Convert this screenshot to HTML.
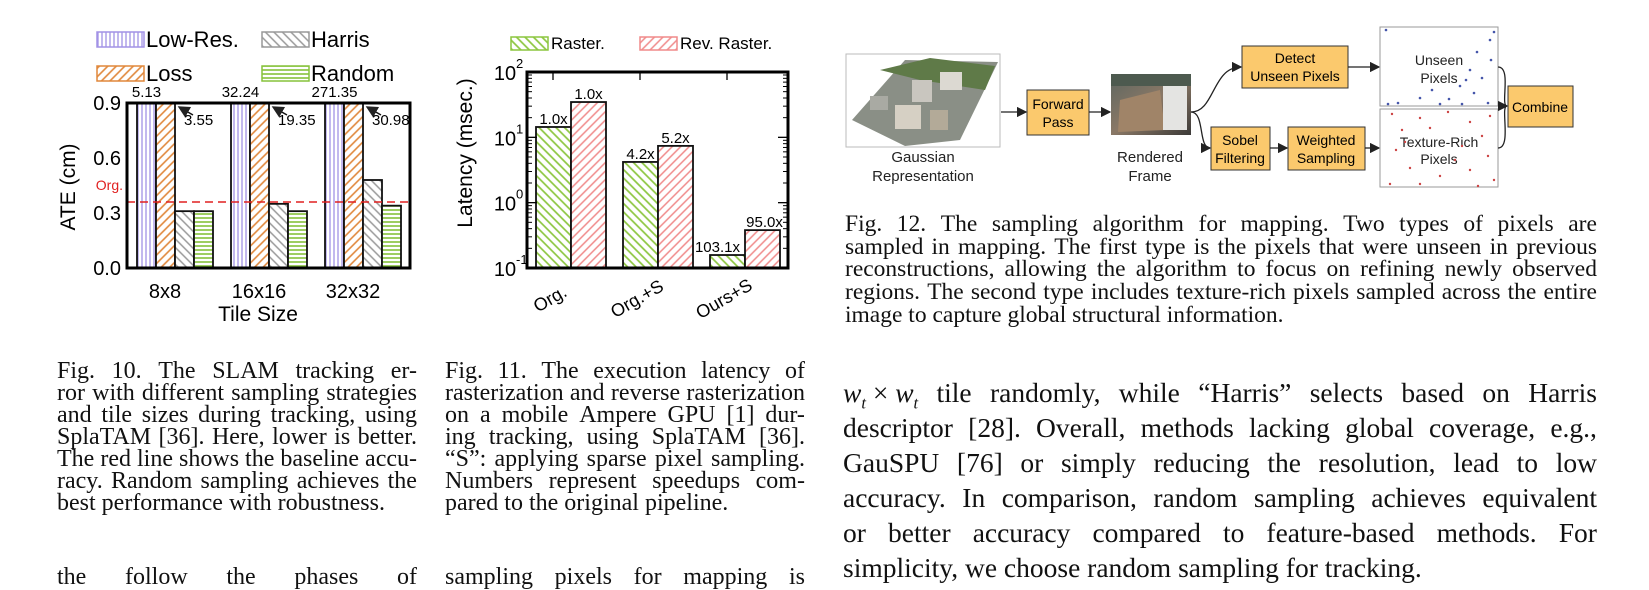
<!DOCTYPE html>
<html><head><meta charset="utf-8">
<style>
html,body{margin:0;padding:0;background:#fff;}
body{width:1649px;height:572px;position:relative;overflow:hidden;font-family:"Liberation Serif",serif;color:#111;}
svg{position:absolute;left:0;top:0;}
.ln{position:absolute;display:flex;justify-content:space-between;white-space:nowrap;}
.ln.last{justify-content:flex-start;}
.ln.last span{margin-right:0.25em;}
.cap{font-size:24px;line-height:22px;}
.cap12{font-size:23.5px;line-height:23px;}
.body{font-size:27.5px;line-height:34px;}
</style></head>
<body>
<svg width="1649" height="572" viewBox="0 0 1649 572">
<defs>
<pattern id="pLow" width="4" height="4" patternUnits="userSpaceOnUse"><rect width="4" height="4" fill="#fff"/><line x1="2" y1="0" x2="2" y2="4" stroke="#a292e6" stroke-width="1.3"/></pattern>
<pattern id="pLoss" width="6" height="6" patternUnits="userSpaceOnUse" patternTransform="rotate(-45)"><rect width="6" height="6" fill="#fff"/><line x1="0" y1="3" x2="6" y2="3" stroke="#e0873a" stroke-width="1.6"/></pattern>
<pattern id="pHarris" width="6" height="6" patternUnits="userSpaceOnUse" patternTransform="rotate(45)"><rect width="6" height="6" fill="#fff"/><line x1="0" y1="3" x2="6" y2="3" stroke="#999" stroke-width="1.5"/></pattern>
<pattern id="pRandom" width="4" height="4" patternUnits="userSpaceOnUse"><rect width="4" height="4" fill="#fff"/><line x1="0" y1="2" x2="4" y2="2" stroke="#86c23a" stroke-width="1.6"/></pattern>
<pattern id="pRaster" width="6" height="6" patternUnits="userSpaceOnUse" patternTransform="rotate(45)"><rect width="6" height="6" fill="#fff"/><line x1="0" y1="3" x2="6" y2="3" stroke="#8cc63f" stroke-width="1.7"/></pattern>
<pattern id="pRev" width="6" height="6" patternUnits="userSpaceOnUse" patternTransform="rotate(-45)"><rect width="6" height="6" fill="#fff"/><line x1="0" y1="3" x2="6" y2="3" stroke="#f08a8a" stroke-width="1.5"/></pattern>
<marker id="arr" markerWidth="8" markerHeight="8" refX="7" refY="4" orient="auto"><path d="M0,0 L8,4 L0,8 z" fill="#222"/></marker>
<linearGradient id="gRend" x1="0" y1="0" x2="1" y2="1"><stop offset="0" stop-color="#5d6660"/><stop offset="0.5" stop-color="#8a7866"/><stop offset="1" stop-color="#3c3a38"/></linearGradient>
</defs>
<g id="chart1"></g>
<g id="chart2"></g>
<g id="diagram" font-family="Liberation Sans, sans-serif">
  <g>
    <rect x="846" y="54" width="154" height="93" fill="#fff" stroke="#bbb"/>
    <polygon points="852,120 905,60 998,62 960,140 905,146" fill="#8a8f86"/>
    <polygon points="880,70 930,58 995,66 985,90 920,80" fill="#5f7a48"/>
    <rect x="912" y="80" width="20" height="22" fill="#c9c6bf"/>
    <rect x="940" y="72" width="22" height="18" fill="#dcd9d2"/>
    <rect x="895" y="105" width="26" height="24" fill="#d6d0c4"/>
    <rect x="930" y="110" width="18" height="20" fill="#b3aa98"/>
    <rect x="870" y="96" width="18" height="14" fill="#a9aaa3"/>
  </g>
  <text x="923" y="162" font-size="15" text-anchor="middle" fill="#222">Gaussian</text>
  <text x="923" y="181" font-size="15" text-anchor="middle" fill="#222">Representation</text>
  <line x1="1001" y1="112" x2="1026" y2="112" stroke="#222" stroke-width="1.3" marker-end="url(#arr)"/>
  <g>
    <rect x="1027" y="90" width="62" height="45" fill="#fbc96d" stroke="#333"/>
    <text x="1058" y="109" font-size="14" text-anchor="middle">Forward</text>
    <text x="1058" y="127" font-size="14" text-anchor="middle">Pass</text>
  </g>
  <line x1="1089" y1="112" x2="1110" y2="112" stroke="#222" stroke-width="1.3" marker-end="url(#arr)"/>
  <g>
    <rect x="1111" y="74" width="80" height="61" fill="url(#gRend)"/>
    <polygon points="1120,100 1160,90 1165,130 1118,132" fill="#a08468"/>
    <rect x="1163" y="80" width="24" height="50" fill="#e4e4e2"/>
    <rect x="1111" y="74" width="80" height="12" fill="#4d5a4f"/>
  </g>
  <text x="1150" y="162" font-size="15" text-anchor="middle" fill="#222">Rendered</text>
  <text x="1150" y="181" font-size="15" text-anchor="middle" fill="#222">Frame</text>
  <path d="M1191,112 C1215,112 1212,67 1241,67" fill="none" stroke="#222" stroke-width="1.3" marker-end="url(#arr)"/>
  <path d="M1191,112 C1205,112 1198,148 1210,148" fill="none" stroke="#222" stroke-width="1.3" marker-end="url(#arr)"/>
  <g>
    <rect x="1242" y="46" width="106" height="42" fill="#fbc96d" stroke="#333"/>
    <text x="1295" y="63" font-size="14" text-anchor="middle">Detect</text>
    <text x="1295" y="81" font-size="14" text-anchor="middle">Unseen Pixels</text>
  </g>
  <line x1="1348" y1="67" x2="1379" y2="67" stroke="#222" stroke-width="1.3" marker-end="url(#arr)"/>
  <g>
    <rect x="1211" y="127" width="59" height="43" fill="#fbc96d" stroke="#333"/>
    <text x="1240" y="145" font-size="14" text-anchor="middle">Sobel</text>
    <text x="1240" y="163" font-size="14" text-anchor="middle">Filtering</text>
  </g>
  <line x1="1270" y1="148" x2="1287" y2="148" stroke="#222" stroke-width="1.3" marker-end="url(#arr)"/>
  <g>
    <rect x="1288" y="127" width="77" height="43" fill="#fbc96d" stroke="#333"/>
    <text x="1326" y="145" font-size="14" text-anchor="middle">Weighted</text>
    <text x="1326" y="163" font-size="14" text-anchor="middle">Sampling</text>
  </g>
  <line x1="1365" y1="148" x2="1379" y2="148" stroke="#222" stroke-width="1.3" marker-end="url(#arr)"/>
  <g>
    <rect x="1380" y="27" width="118" height="79" fill="#fff" stroke="#999"/>
    <text x="1439" y="65" font-size="14" text-anchor="middle" fill="#222">Unseen</text>
    <text x="1439" y="83" font-size="14" text-anchor="middle" fill="#222">Pixels</text>
    <g fill="#4455aa" id="blueDots"></g>
  </g>
  <g>
    <rect x="1380" y="109" width="118" height="78" fill="#fff" stroke="#999"/>
    <text x="1439" y="147" font-size="14" text-anchor="middle" fill="#222">Texture-Rich</text>
    <text x="1439" y="164" font-size="14" text-anchor="middle" fill="#222">Pixels</text>
    <g fill="#cc4444" id="redDots"></g>
  </g>
  <path d="M1498,67 C1512,67 1500,106 1507,106" fill="none" stroke="#222" stroke-width="1.3" marker-end="url(#arr)"/>
  <path d="M1498,148 C1512,148 1500,106 1507,106" fill="none" stroke="#222" stroke-width="1.3"/>
  <g>
    <rect x="1508" y="86" width="65" height="41" fill="#fbc96d" stroke="#333"/>
    <text x="1540" y="112" font-size="14" text-anchor="middle">Combine</text>
  </g>
</g>
</svg>

<!-- Fig 10 caption -->
<div>
<div class="ln cap" style="left:57px;top:360px;width:360px;">Fig. 10. &#8195; The SLAM tracking er-</div>
<div class="ln cap" style="left:57px;top:382px;width:360px;">ror with different sampling strategies</div>
<div class="ln cap" style="left:57px;top:404px;width:360px;">and tile sizes during tracking, using</div>
<div class="ln cap" style="left:57px;top:426px;width:360px;">SplaTAM [36]. Here, lower is better.</div>
<div class="ln cap" style="left:57px;top:448px;width:360px;">The red line shows the baseline accu-</div>
<div class="ln cap" style="left:57px;top:470px;width:360px;">racy. Random sampling achieves the</div>
<div class="ln cap last" style="left:57px;top:492px;width:360px;">best performance with robustness.</div>
<div class="ln cap" style="left:57px;top:566px;width:360px;">the follow the phases of</div>
</div>
<!-- Fig 11 caption -->
<div>
<div class="ln cap" style="left:445px;top:360px;width:360px;">Fig. 11. &#8194;The execution latency of</div>
<div class="ln cap" style="left:445px;top:382px;width:360px;">rasterization and reverse rasterization</div>
<div class="ln cap" style="left:445px;top:404px;width:360px;">on a mobile Ampere GPU [1] dur-</div>
<div class="ln cap" style="left:445px;top:426px;width:360px;">ing tracking, using SplaTAM [36].</div>
<div class="ln cap" style="left:445px;top:448px;width:360px;">“S”: applying sparse pixel sampling.</div>
<div class="ln cap" style="left:445px;top:470px;width:360px;">Numbers represent speedups com-</div>
<div class="ln cap last" style="left:445px;top:492px;width:360px;">pared to the original pipeline.</div>
<div class="ln cap" style="left:445px;top:566px;width:360px;">sampling pixels for mapping is</div>
</div>
<!-- Fig 12 caption -->
<div>
<div class="ln cap12" style="left:845px;top:213px;width:752px;">Fig. 12. &#8195; The sampling algorithm for mapping. Two types of pixels are</div>
<div class="ln cap12" style="left:845px;top:236px;width:752px;">sampled in mapping. The first type is the pixels that were unseen in previous</div>
<div class="ln cap12" style="left:845px;top:258px;width:752px;">reconstructions, allowing the algorithm to focus on refining newly observed</div>
<div class="ln cap12" style="left:845px;top:281px;width:752px;">regions. The second type includes texture-rich pixels sampled across the entire</div>
<div class="ln cap12 last" style="left:845px;top:304px;width:752px;">image to capture global structural information.</div>
</div>
<!-- Body -->
<div>
<div class="ln body nosplit" style="left:843px;top:376px;width:754px;"><span><i>w<sub style="font-size:60%">t</sub></i> × <i>w<sub style="font-size:60%">t</sub></i></span><span>tile</span><span>randomly,</span><span>while</span><span>“Harris”</span><span>selects</span><span>based</span><span>on</span><span>Harris</span></div>
<div class="ln body" style="left:843px;top:411px;width:754px;">descriptor [28]. Overall, methods lacking global coverage, e.g.,</div>
<div class="ln body" style="left:843px;top:446px;width:754px;">GauSPU [76] or simply reducing the resolution, lead to low</div>
<div class="ln body" style="left:843px;top:481px;width:754px;">accuracy. In comparison, random sampling achieves equivalent</div>
<div class="ln body" style="left:843px;top:516px;width:754px;">or better accuracy compared to feature-based methods. For</div>
<div class="ln body last" style="left:843px;top:551px;width:754px;">simplicity, we choose random sampling for tracking.</div>
</div>

<script>
// ---------- Chart 1 data ----------
const c1Categories = ['8x8', '16x16', '32x32'];
const c1LowRes = [5.13, 32.24, 271.35];
const c1Loss = [3.55, 19.35, 30.98];
const c1Harris = [0.31, 0.35, 0.48];
const c1Random = [0.31, 0.31, 0.34];
const c1Baseline = 0.36;
const c1Ticks = [0.0, 0.3, 0.6, 0.9];
const c1TickLabels = ['0.0', '0.3', '0.6', '0.9'];

// ---------- Chart 2 data ----------
const c2Categories = ['Org.', 'Org.+S', 'Ours+S'];
const c2Raster = [14.4, 4.2, 0.158];
const c2Rev = [34.7, 7.4, 0.38];
const c2RasterSpeedup = ['1.0x', '4.2x', '103.1x'];
const c2RevSpeedup = ['1.0x', '5.2x', '95.0x'];
const c2Exponents = [-1, 0, 1, 2];

const NS = 'http://www.w3.org/2000/svg';
function mk(parent, tag, attrs, text) {
  const e = document.createElementNS(NS, tag);
  for (const k in attrs) e.setAttribute(k, attrs[k]);
  if (text !== undefined) e.textContent = text;
  parent.appendChild(e);
  return e;
}

// Chart 1
(function () {
  const g = document.getElementById('chart1');
  const L = 127, R = 410, T = 103, B = 268, YMAX = 0.9;
  const y = v => B - Math.min(v, YMAX) / YMAX * (B - T);
  const gc = i => 175 + i * 94;
  const bw = 19;
  const F = 'Liberation Sans, sans-serif';
  const leg = [['pLow', 'Low-Res.', 97, 32], ['pHarris', 'Harris', 262, 32], ['pLoss', 'Loss', 97, 66], ['pRandom', 'Random', 262, 66]];
  leg.forEach(l => {
    const r = mk(g, 'rect', { x: l[2], y: l[3], width: 47, height: 15, fill: 'url(#' + l[0] + ')', stroke: l[0] === 'pLow' ? '#a292e6' : l[0] === 'pLoss' ? '#e0873a' : l[0] === 'pHarris' ? '#999' : '#86c23a', 'stroke-width': 1.5 });
    
    
    const t = mk(g, 'text', { x: l[2] + 49, y: l[3] + 15, 'font-size': 22, 'font-family': F }, l[1]);
    
    
  });
  const series = [[c1LowRes, 'pLow'], [c1Loss, 'pLoss'], [c1Harris, 'pHarris'], [c1Random, 'pRandom']];
  c1Categories.forEach((c, i) => {
    series.forEach((s, k) => {
      const x = gc(i) - 38 + k * bw;
      const b = mk(g, 'rect', { x: x, y: y(s[0][i]), width: bw, height: B - y(s[0][i]), fill: 'url(#' + s[1] + ')', stroke: '#111', 'stroke-width': 1.8 });
      
      
    });
    const lx = gc(i) - 38 + bw / 2;
    const t1 = mk(g, 'text', { x: lx, y: 97, 'font-size': 15, 'text-anchor': 'middle', 'font-family': F }, c1LowRes[i].toFixed(2));
    
    
    const ax = gc(i) - 38 + 2 * bw;
    const a = mk(g, 'line', { x1: ax + 18, y1: 115, x2: ax + 4, y2: 107, stroke: '#111', 'stroke-width': 1.5, 'marker-end': 'url(#arr)' });
    
    
    const t2 = mk(g, 'text', { x: ax + 9, y: 125, 'font-size': 15, 'font-family': F }, c1Loss[i].toFixed(2));
    
    
    const xl = mk(g, 'text', { x: gc(i) - 10, y: 298, 'font-size': 20, 'text-anchor': 'middle', 'font-family': F }, c);
    
    
  });
  const bl = mk(g, 'line', { x1: L, x2: R, y1: y(c1Baseline), y2: y(c1Baseline), stroke: '#e02020', 'stroke-width': 1.6, 'stroke-dasharray': '8,5' });
  
  
  const ol = mk(g, 'text', { x: 123, y: y(c1Baseline) - 12, 'font-size': 14, fill: '#e02020', 'text-anchor': 'end', 'font-family': F }, 'Org.');
  
  
  c1Ticks.forEach((v, i) => {
    const t = mk(g, 'text', { x: 121, y: y(v) + 7, 'font-size': 20, 'text-anchor': 'end', 'font-family': F }, c1TickLabels[i]);
    
    
  });
  const fr = mk(g, 'rect', { x: L, y: T, width: R - L, height: B - T, fill: 'none', stroke: '#000', 'stroke-width': 3 });
  
  
  const yt = mk(g, 'text', { x: 0, y: 0, 'font-size': 21, 'text-anchor': 'middle', 'font-family': F, transform: 'translate(75,187) rotate(-90)' }, 'ATE (cm)');
  
  
  const xt = mk(g, 'text', { x: 258, y: 321, 'font-size': 21, 'text-anchor': 'middle', 'font-family': F }, 'Tile Size');
  
  
})();

// Chart 2
(function () {
  const g = document.getElementById('chart2');
  const L = 527, R = 788, T = 72, B = 268;
  const dec = (B - T) / 3;
  const y = v => B - (Math.log10(v) + 1) * dec;
  const gc = i => 571 + i * 87;
  const bw = 35;
  const F = 'Liberation Sans, sans-serif';
  const leg = [['pRaster', 'Raster.', 511, '#8cc63f'], ['pRev', 'Rev. Raster.', 640, '#f08a8a']];
  leg.forEach(l => {
    const r = mk(g, 'rect', { x: l[2], y: 37, width: 37, height: 13, fill: 'url(#' + l[0] + ')', stroke: l[3], 'stroke-width': 1.5 });
    
    
    const t = mk(g, 'text', { x: l[2] + 40, y: 49, 'font-size': 17, 'font-family': F }, l[1]);
    
    
  });
  c2Categories.forEach((c, i) => {
    const b1 = mk(g, 'rect', { x: gc(i) - bw, y: y(c2Raster[i]), width: bw, height: B - y(c2Raster[i]), fill: 'url(#pRaster)', stroke: '#111', 'stroke-width': 1.8 });
    
    
    const b2 = mk(g, 'rect', { x: gc(i), y: y(c2Rev[i]), width: bw, height: B - y(c2Rev[i]), fill: 'url(#pRev)', stroke: '#111', 'stroke-width': 1.8 });
    
    
    const t1 = mk(g, 'text', { x: gc(i) - bw / 2 - (i === 2 ? 10 : 0), y: y(c2Raster[i]) - 3, 'font-size': 15, 'text-anchor': 'middle', 'font-family': F }, c2RasterSpeedup[i]);
    
    
    const t2 = mk(g, 'text', { x: gc(i) + bw / 2 + (i === 2 ? 2 : 0), y: y(c2Rev[i]) - 3, 'font-size': 15, 'text-anchor': 'middle', 'font-family': F }, c2RevSpeedup[i]);
    
    
    const xl = mk(g, 'text', { x: 0, y: 0, 'font-size': 18, 'text-anchor': 'middle', 'font-family': F, transform: 'translate(' + (gc(i) - 18) + ',304) rotate(-30)' }, c);
    
    
    mk(g, 'line', { x1: gc(i) - 18, x2: gc(i) - 18, y1: T, y2: T + 8, stroke: '#000', 'stroke-width': 1.3 });
  });
  c2Exponents.forEach((e, i) => {
    const yy = y(Math.pow(10, e));
    const t = mk(g, 'text', { x: 505, y: yy + 8, 'font-size': 20, 'text-anchor': 'middle', 'font-family': F }, '10');
    
    
    mk(g, 'text', { x: 516, y: yy - 4, 'font-size': 13, 'font-family': F }, String(e));
    mk(g, 'line', { x1: L, x2: L + 10, y1: yy, y2: yy, stroke: '#000', 'stroke-width': 1.3 });
    mk(g, 'line', { x1: R - 10, x2: R, y1: yy, y2: yy, stroke: '#000', 'stroke-width': 1.3 });
    if (e < 2) {
      for (let m = 2; m < 10; m++) {
        const ym = y(m * Math.pow(10, e));
        mk(g, 'line', { x1: L, x2: L + 5, y1: ym, y2: ym, stroke: '#000', 'stroke-width': 1 });
        mk(g, 'line', { x1: R - 5, x2: R, y1: ym, y2: ym, stroke: '#000', 'stroke-width': 1 });
      }
    }
  });
  const fr = mk(g, 'rect', { x: L, y: T, width: R - L, height: B - T, fill: 'none', stroke: '#000', 'stroke-width': 3 });
  
  
  const yt = mk(g, 'text', { x: 0, y: 0, 'font-size': 21, 'text-anchor': 'middle', 'font-family': F, transform: 'translate(472,153) rotate(-90)' }, 'Latency (msec.)');
  
  
})();

// Diagram dots
(function () {
  const blue = [[1386,30],[1494,32],[1490,40],[1477,52],[1491,60],[1470,70],[1482,78],[1460,86],[1474,93],[1449,99],[1420,98],[1398,103],[1388,104],[1440,104],[1488,103],[1462,104],[1432,90],[1466,80]];
  const red = [[1392,114],[1420,118],[1448,112],[1470,122],[1490,116],[1402,130],[1430,128],[1482,136],[1396,150],[1462,146],[1488,156],[1410,168],[1440,176],[1470,170],[1494,180],[1390,184],[1420,184],[1455,160],[1478,186],[1405,142]];
  const gb = document.getElementById('blueDots'), gr = document.getElementById('redDots');
  blue.forEach(p => mk(gb, 'circle', { cx: p[0], cy: p[1], r: 1.3 }));
  red.forEach(p => mk(gr, 'circle', { cx: p[0], cy: p[1], r: 1.2 }));
})();

// split lines into justified word spans
document.querySelectorAll('.ln').forEach(d => {
  if (d.classList.contains('nosplit')) return;
  const words = d.textContent.trim().split(/\s+/);
  d.textContent = '';
  words.forEach(w => { const s = document.createElement('span'); s.textContent = w; d.appendChild(s); });
});
</script>
</body></html>
